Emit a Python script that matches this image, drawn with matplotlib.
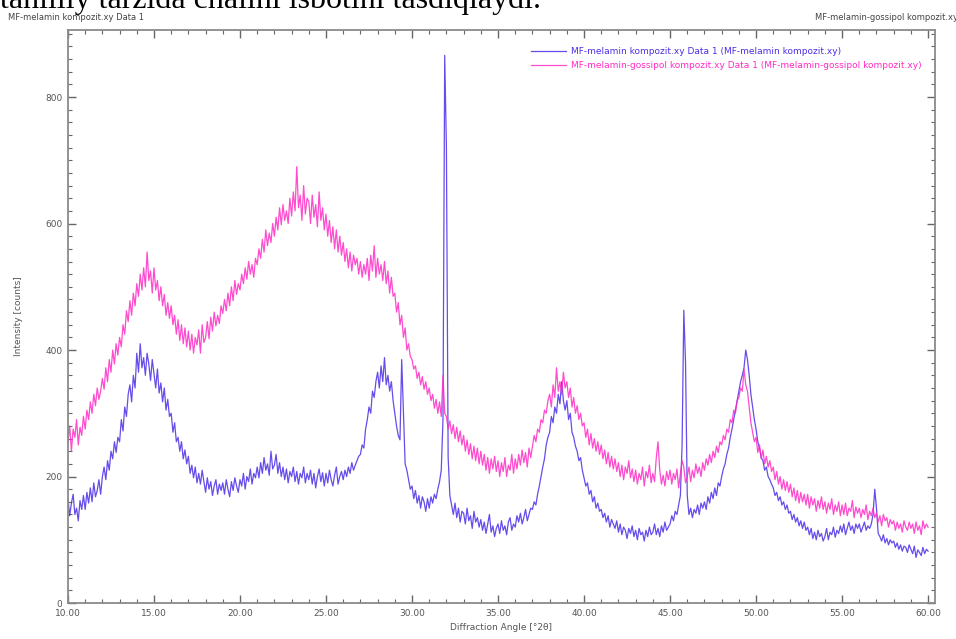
import numpy as np
import matplotlib.pyplot as plt
from matplotlib.ticker import MultipleLocator, FormatStrFormatter

# 2-theta grid, 0.1 deg steps from 10.0 to 60.0
two_theta = np.round(np.arange(10.0, 60.05, 0.1), 1)

# MF-melamin kompozit (one row per degree, 10.0 ... 59.9, then 60.0)
melamin = [
    165, 138, 158, 172, 140, 150, 130, 162, 148, 170,
    148, 175, 158, 182, 160, 190, 168, 178, 195, 172,
    200, 215, 195, 225, 210, 240, 228, 255, 238, 262,
    255, 290, 272, 310, 295, 330, 345, 318, 360, 340,
    395, 365, 410, 372, 388, 360, 395, 378, 352, 385,
    362, 340, 370, 332, 348, 318, 340, 305, 322, 295,
    300, 270, 285, 255, 262, 240, 255, 228, 242, 220,
    232, 205, 218, 198, 215, 190, 205, 188, 210, 192,
    175, 198, 180, 192, 170, 185, 195, 172, 188, 178,
    190, 172, 195, 180, 168, 192, 178, 198, 185, 175,
    195, 185, 205, 180, 200, 192, 212, 188, 205, 198,
    215, 198, 222, 205, 230, 210, 220, 202, 240, 212,
    218, 235, 205, 222, 200, 215, 195, 212, 190, 208,
    200, 215, 192, 208, 188, 205, 198, 215, 190, 205,
    195, 210, 188, 205, 182, 200, 212, 192, 206, 185,
    205, 190, 210, 195, 185, 202, 215, 188, 200, 208,
    195, 210, 200, 215, 205, 222, 210, 218, 225, 232,
    235, 250, 245, 275, 290, 310, 300, 335, 325, 350,
    365, 340, 375, 350, 388, 345, 360, 335, 350, 320,
    300, 280, 265, 258, 385, 300, 220, 210, 195, 180,
    185, 165, 178, 158, 170, 150, 168, 160, 145, 165,
    150, 168, 158, 172, 165, 180, 192, 210, 290, 866,
    720, 230, 170, 155, 140, 158, 135, 150, 128, 145,
    142, 125, 150, 130, 138, 118, 145, 128, 135, 120,
    132, 115, 128, 110, 125, 140, 112, 122, 105, 118,
    125, 110, 130, 115, 122, 108, 128, 135, 115, 125,
    120, 138, 128, 142, 125, 135, 148, 130, 140, 150,
    148, 160, 155, 172, 185, 200, 215, 228, 250, 262,
    270, 295, 285, 310, 300, 330, 315, 350, 320, 305,
    320, 290, 300, 270, 262, 248, 240, 225, 230, 210,
    198, 185, 190, 172, 178, 160, 168, 150, 158, 145,
    148, 135, 142, 128, 138, 120, 132, 125, 118, 130,
    112, 125, 108, 120, 115, 102, 118, 110, 122, 105,
    115, 100, 118, 108, 112, 98, 115, 105, 120, 108,
    112, 125, 108, 118, 105, 122, 112, 128, 115, 120,
    125, 138, 130, 145, 140, 155, 170, 250, 463, 380,
    170, 140, 150, 135, 148, 142, 155, 140, 158, 150,
    160, 148, 168, 158, 175, 165, 182, 170, 190, 185,
    200, 212, 220, 235, 245, 262, 275, 290, 305, 320,
    335, 350, 360, 372, 400, 385, 360, 330, 310, 290,
    275, 255, 245, 230, 225, 210, 215, 200, 195, 188,
    182, 170, 175, 162, 168, 155, 160, 148, 155, 142,
    145, 132, 140, 128, 135, 122, 130, 118, 128, 115,
    120, 108, 118, 102, 112, 100, 115, 105, 110, 98,
    105, 118, 100, 112, 108, 120, 104, 115, 110, 122,
    112, 125, 108, 118, 128, 115, 122, 110, 125, 118,
    125, 112, 120, 128, 115, 122, 118, 125, 140, 180,
    150, 110, 105, 98, 108, 95, 102, 92, 100, 95,
    98, 88, 95, 85, 92, 82, 90, 88, 80, 92,
    85, 78, 90, 72, 84, 80, 75, 88, 78, 85,
    82,
]

# MF-melamin-gossipol kompozit
gossipol = [
    255, 280, 240, 275, 262, 290, 250, 278, 265, 295,
    275, 305, 290, 318, 300, 330, 312, 340, 322, 335,
    355, 338, 372, 350, 385, 365, 400, 378, 410, 392,
    420, 405, 440, 425, 462, 445, 478, 455, 490, 470,
    505, 485, 520, 495, 530, 500, 555, 510, 525, 490,
    530, 495, 510, 478, 500, 470, 488, 455, 475, 450,
    470, 440, 455, 425, 448, 415, 440, 410, 435, 405,
    430, 400, 425, 395, 420, 408, 432, 395, 440, 412,
    420, 445, 418, 452, 430, 460, 438, 455, 442, 470,
    458, 480, 462, 490, 470, 500, 478, 510, 488, 505,
    495, 520, 505, 530, 512, 540, 520, 535, 515, 545,
    535, 560, 545, 575, 555, 590, 565, 585, 570, 600,
    580, 610, 590, 625, 598, 630, 605, 620, 600, 640,
    612, 650, 620, 690, 625, 645, 605, 660, 615, 640,
    635, 600, 645, 610, 630, 595, 650, 605, 625, 590,
    615, 580, 605, 570, 595, 560, 590, 555, 580, 550,
    570, 540, 560, 530, 555, 525, 550, 535, 545, 520,
    540, 515, 535, 520, 545, 510, 550, 525, 565, 515,
    545, 520, 535, 510, 540, 505, 525, 490, 515, 485,
    490, 460, 475, 440, 455, 420, 435, 400, 410, 390,
    385, 370, 375, 355, 365, 345, 358, 338, 350, 330,
    340, 320, 330, 308, 322, 300, 318, 295, 360, 300,
    295, 275, 288, 268, 282, 260, 278, 255, 272, 250,
    265, 240, 258, 235, 252, 228, 248, 225, 245, 220,
    240, 218, 235, 210, 230, 205, 228, 212, 232, 208,
    225, 200, 222, 208, 230, 200, 218, 210, 235, 205,
    228, 212, 235, 218, 242, 222, 238, 215, 245, 230,
    248, 265, 255, 275, 270, 290, 285, 305, 300, 320,
    330, 310, 345, 325, 372, 335, 350, 330, 365, 340,
    350, 325, 340, 310, 325, 300, 312, 290, 300, 280,
    285, 262, 275, 250, 268, 245, 260, 240, 255, 235,
    250, 228, 242, 220, 238, 215, 232, 212, 228, 208,
    222, 200, 218, 195, 215, 205, 225, 198, 212, 192,
    210, 188, 205, 195, 215, 185, 208, 198, 218, 190,
    205, 192, 230, 255, 210, 188, 202, 185, 208, 195,
    210, 188, 205, 195, 212, 182, 205, 225, 215, 190,
    200, 215, 192, 210, 198, 220, 205, 215, 200, 222,
    210, 228, 218, 235, 222, 240, 230, 248, 238, 255,
    250, 265, 258, 275, 270, 290, 285, 305, 300, 320,
    325, 340, 335, 370, 345, 335, 310, 285, 270, 255,
    262, 238, 250, 228, 242, 220, 232, 215, 225, 208,
    215, 195, 208, 188, 200, 180, 195, 178, 192, 175,
    188, 168, 182, 162, 178, 158, 175, 160, 172, 155,
    172, 150, 168, 155, 165, 145, 162, 150, 168, 148,
    160, 142, 158, 148, 165, 140, 155, 145, 160, 138,
    155, 140, 158, 138, 150, 145, 162, 135, 152, 142,
    150, 135, 148, 140, 155, 132, 145, 138, 150, 135,
    142, 128, 138, 122, 140, 130, 135, 120, 132, 125,
    130, 115, 128, 118, 125, 112, 130, 120, 115, 128,
    118, 125, 110, 128, 115, 122, 108, 130, 118, 125,
    120,
]

labels = ['MF-melamin kompozit.xy Data 1 (MF-melamin kompozit.xy)',
          'MF-melamin-gossipol kompozit.xy Data 1 (MF-melamin-gossipol kompozit.xy)']
colors = ['#4a2ee8', '#ff2bc6']

fig = plt.figure(figsize=(9.56, 6.39), dpi=100)
ax = fig.add_axes([0.0711, 0.0563, 0.9069, 0.8967])

ax.plot(two_theta, melamin, color=colors[0], lw=0.9, alpha=0.85, label=labels[0])
ax.plot(two_theta, gossipol, color=colors[1], lw=0.9, alpha=0.85, label=labels[1])

ax.set_xlim(10, 60.4)
ax.set_ylim(0, 906)
ax.xaxis.set_major_locator(MultipleLocator(5))
ax.xaxis.set_minor_locator(MultipleLocator(1))
ax.yaxis.set_major_locator(MultipleLocator(200))
ax.yaxis.set_minor_locator(MultipleLocator(20))
ax.xaxis.set_major_formatter(FormatStrFormatter('%.2f'))

grey = '#555555'
for s in ax.spines.values():
    s.set_color('#8a8a8a')
    s.set_linewidth(1.3)
ax.tick_params(which='both', direction='in', top=True, right=True,
               colors='#666666', labelcolor=grey, labelsize=6.5, pad=4)
ax.tick_params(which='major', length=6, width=1)
ax.tick_params(which='minor', length=3, width=0.8)

ax.set_xlabel('Diffraction Angle [°2θ]', fontsize=6.5, color=grey, labelpad=4)
ax.set_ylabel('Intensity [counts]', fontsize=6.5, color=grey, labelpad=16)

leg = ax.legend(loc='upper left', bbox_to_anchor=(0.525, 0.985), frameon=False,
                fontsize=6.5, handlelength=3.8, handletextpad=0.6, labelspacing=0.55)
for t, c in zip(leg.get_texts(), colors):
    t.set_color(c)

fig.text(0.008, 0.973, 'MF-melamin kompozit.xy Data 1', fontsize=6, color='#444444', va='center')
fig.text(1.002, 0.973, 'MF-melamin-gossipol kompozit.xy', fontsize=6, color='#444444',
         va='center', ha='right')
# heading of the surrounding document, cut off by the screenshot
fig.text(0.0, 0.988, 'tahliliy tarzida chalini isbotini tasdiqlaydi.',
         fontsize=23, family='Liberation Serif', color='black', va='baseline')

fig.savefig('out.png', dpi=100)
